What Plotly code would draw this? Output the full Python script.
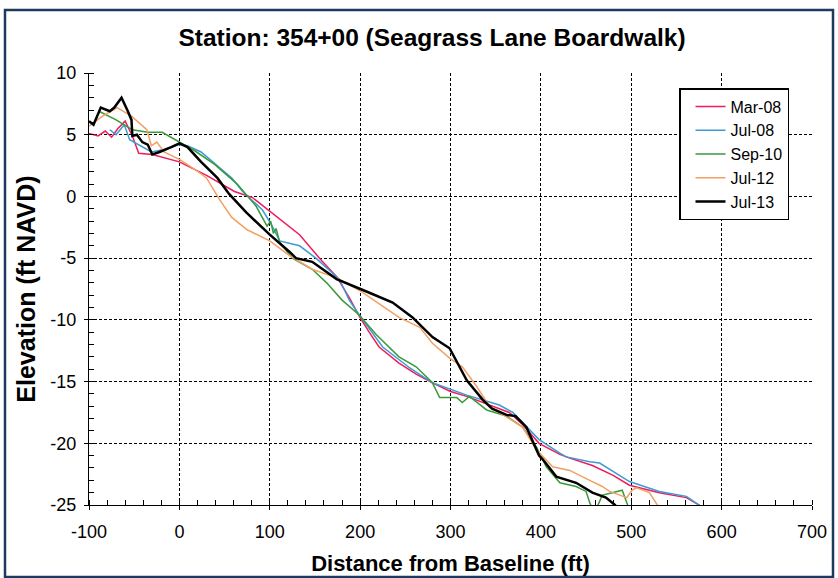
import plotly.graph_objects as go

# ---- data (ft from baseline, ft NAVD) ----
mar08_x = [-100, -90, -82, -75, -68, -60, -52, -45, -30, 0, 30, 61, 81, 100, 115, 133, 155, 174, 188, 199, 210, 221, 243, 262, 280, 300, 318, 346, 365, 380, 398, 421, 432, 457, 480, 498, 531, 561, 575, 585]
mar08_y = [5.1, 4.9, 5.3, 4.8, 5.5, 6.1, 4.9, 3.5, 3.4, 2.8, 1.7, 0.4, -0.1, -1.2, -2.1, -3.1, -5.0, -6.5, -8.2, -9.7, -11.0, -12.2, -13.5, -14.4, -15.1, -15.8, -16.2, -17.0, -17.5, -18.5, -20.0, -20.9, -21.2, -21.8, -22.6, -23.4, -24.0, -24.4, -25.0, -25.6]

jul08_x = [-77, -70, -61, -55, -31, -17, 0, 9, 24, 44, 58, 70, 92, 102, 111, 133, 151, 177, 188, 199, 225, 255, 280, 318, 354, 369, 398, 421, 428, 454, 465, 498, 531, 561, 576, 585]
jul08_y = [5.4, 5.0, 5.8, 4.6, 3.6, 3.8, 4.2, 4.1, 3.6, 2.4, 1.5, 0.4, -1.1, -2.3, -3.6, -4.0, -5.0, -6.7, -8.4, -9.6, -12.2, -13.9, -15.1, -16.1, -16.9, -17.5, -19.7, -20.8, -21.1, -21.5, -21.6, -23.1, -23.9, -24.3, -25.0, -25.5]

sep10_x = [-89, -70, -52, -35, -19, 0, 17, 39, 64, 85, 97, 101, 104, 107, 111, 125, 147, 163, 180, 199, 218, 243, 262, 280, 288, 300, 307, 313, 321, 340, 362, 380, 395, 406, 421, 439, 450, 454, 458, 462, 468, 479, 490, 496, 500]
sep10_y = [6.9, 6.2, 5.4, 5.2, 5.2, 4.4, 3.7, 2.6, 1.0, -0.8, -2.4, -2.0, -3.0, -2.6, -3.7, -5.0, -5.9, -7.0, -8.4, -9.6, -11.2, -13.0, -13.8, -15.1, -16.3, -16.3, -16.3, -16.7, -16.2, -17.3, -17.8, -18.7, -20.3, -21.9, -23.2, -23.5, -23.9, -24.8, -25.5, -25.2, -24.2, -24.0, -23.8, -25.0, -25.6]

jul12_x = [-100, -85, -69, -53, -36, -31, -25, -17, 0, 17, 30, 44, 58, 75, 100, 122, 147, 174, 199, 225, 243, 266, 280, 299, 313, 329, 343, 380, 395, 413, 432, 454, 468, 476, 487, 495, 501, 506, 520, 528, 535]
jul12_y = [5.7, 6.5, 7.2, 6.5, 5.4, 4.1, 4.4, 3.6, 3.0, 2.2, 1.5, -0.2, -1.7, -2.7, -3.6, -4.8, -5.9, -6.6, -7.6, -8.9, -9.8, -10.6, -11.9, -13.1, -13.8, -15.4, -17.0, -18.7, -20.5, -21.9, -22.2, -23.0, -23.5, -23.9, -24.2, -24.4, -23.8, -23.6, -24.0, -24.9, -25.5]

jul13_x = [-100, -95, -87, -77, -72, -64, -57, -53, -52, -47, -41, -35, -30, -22, -9, 0, 9, 24, 42, 55, 74, 100, 122, 129, 147, 174, 207, 236, 258, 280, 299, 310, 318, 336, 346, 362, 372, 384, 391, 398, 402, 417, 439, 457, 472, 482, 490]
jul13_y = [6.1, 5.8, 7.2, 6.9, 7.2, 8.0, 6.9, 6.2, 4.9, 5.0, 4.4, 4.2, 3.4, 3.6, 4.0, 4.3, 4.0, 2.8, 1.5, 0.2, -1.3, -3.1, -4.5, -5.0, -5.3, -6.7, -7.7, -8.6, -9.8, -11.4, -12.3, -13.8, -14.9, -16.5, -17.2, -17.7, -17.8, -18.7, -19.8, -21.0, -21.3, -22.7, -23.2, -24.0, -24.4, -25.0, -25.6]

series = [
    ("Mar-08", mar08_x, mar08_y, "#EE1C5C", 1.5),
    ("Jul-08", jul08_x, jul08_y, "#3D9AD4", 1.5),
    ("Sep-10", sep10_x, sep10_y, "#3A9A3A", 1.5),
    ("Jul-12", jul12_x, jul12_y, "#F2A064", 1.5),
    ("Jul-13", jul13_x, jul13_y, "#000000", 2.5),
]

x_ticks = [-100, 0, 100, 200, 300, 400, 500, 600, 700]
y_ticks = [10, 5, 0, -5, -10, -15, -20, -25]

FONT = "Liberation Sans, Arial, sans-serif"

fig = go.Figure()
for name, xs, ys, col, w in series:
    fig.add_trace(go.Scatter(x=xs, y=ys, mode="lines", name=name,
                             line=dict(color=col, width=w), legendgroup=name))

fig.update_layout(
    width=838, height=578,
    margin=dict(l=89, r=26, t=73, b=73, autoexpand=False),
    paper_bgcolor="white", plot_bgcolor="white",
    font=dict(family=FONT, size=18, color="black"),
    title=dict(text="<b>Station: 354+00 (Seagrass Lane Boardwalk)</b>",
               x=432/838, xanchor="center", y=1-37/578, yanchor="middle",
               font=dict(size=24.5, family=FONT, color="black")),
    showlegend=True,
    legend=dict(x=(679-89)/723, y=(505-88)/432, xanchor="left", yanchor="top",
                bgcolor="white", bordercolor="black", borderwidth=1.5,
                font=dict(size=16, family=FONT), tracegroupgap=0,
                itemwidth=30, indentation=10),
    shapes=[dict(type="rect", xref="paper", yref="paper",
                 x0=(5-89)/723, x1=(833-89)/723, y0=(505-577)/432, y1=(505-10)/432,
                 line=dict(color="#1B3A5E", width=2.5), fillcolor="rgba(0,0,0,0)",
                 layer="below")],
)

fig.update_xaxes(
    range=[-100, 700], tickvals=x_ticks, ticktext=[str(v) for v in x_ticks],
    automargin=False,
    showline=True, linecolor="black", linewidth=1.2, mirror=False,
    ticks="outside", ticklen=4, tickcolor="black", ticklabelstandoff=6,
    showgrid=True, gridcolor="black", gridwidth=1, griddash="3px,2px",
    zeroline=False,
    minor=dict(dtick=20, ticks="inside", ticklen=5, tickcolor="black", showgrid=False),
    title=dict(text="<b>Distance from Baseline (ft)</b>", font=dict(size=22, family=FONT), standoff=14),
)
fig.update_yaxes(
    range=[-25, 10], tickvals=y_ticks, ticktext=[str(v) for v in y_ticks],
    automargin=False,
    showline=True, linecolor="black", linewidth=1.2, mirror=False,
    ticks="outside", ticklen=4, tickcolor="black", ticklabelstandoff=4,
    showgrid=True, gridcolor="black", gridwidth=1, griddash="3px,2px",
    zeroline=False,
    minor=dict(dtick=1, ticks="inside", ticklen=5, tickcolor="black", showgrid=False),
    title=dict(text="<b>Elevation (ft NAVD)</b>", font=dict(size=25, family=FONT), standoff=7),
)

fig.write_html("out.html", config={"displayModeBar": False},
               post_script="document.body.style.margin='0px';")
